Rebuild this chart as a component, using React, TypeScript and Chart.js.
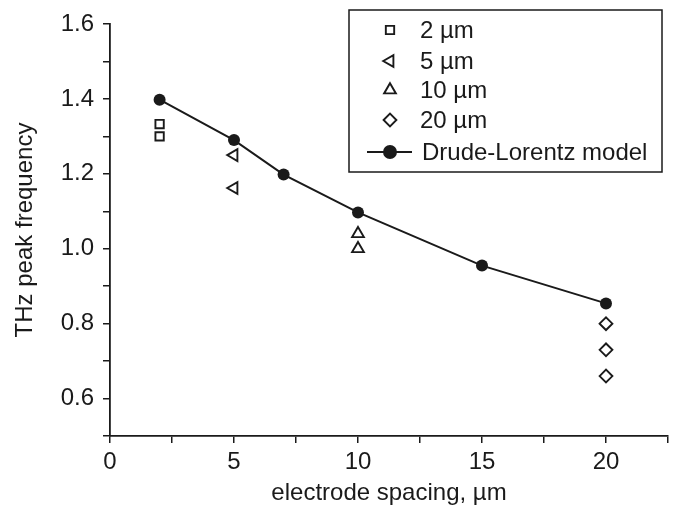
import React, { useEffect, useRef } from "react";
import { Chart, registerables } from "chart.js";
import { drawPoint } from "chart.js/helpers";

Chart.register(...registerables);

// Measured peak frequencies (THz) at each electrode spacing (µm)
const sq2X = [2, 2];
const sq2Y = [1.333, 1.3];
const tri5X = [5, 5];
const tri5Y = [1.25, 1.162];
const tri10X = [10, 10];
const tri10Y = [1.04, 1.0];
const dia20X = [20, 20, 20];
const dia20Y = [0.8, 0.73, 0.66];
// Drude-Lorentz model
const modelX = [2, 5, 7, 10, 15, 20];
const modelY = [1.398, 1.29, 1.198, 1.097, 0.955, 0.854];

const seriesLabels = ["2 µm", "5 µm", "10 µm", "20 µm", "Drude-Lorentz model"];
const xTitle = "electrode spacing, µm";
const yTitle = "THz peak frequency";

const FONT = "'Liberation Sans', Arial, Helvetica, sans-serif";
const INK = "#1a1a1a";
const FS = 24;

const zip = (xs: number[], ys: number[]) => xs.map((x, i) => ({ x, y: ys[i] }));

const legendPlugin = {
  id: "boxLegend",
  afterDraw(chart: any) {
    const ctx = chart.ctx as CanvasRenderingContext2D;
    ctx.save();
    ctx.strokeStyle = INK;
    ctx.lineWidth = 1.5;
    ctx.strokeRect(349, 10, 313, 162);
    const rowY = [30, 61, 90, 120, 152];
    const markerX = 390;
    chart.data.datasets.forEach((ds: any, i: number) => {
      const y = rowY[i];
      ctx.strokeStyle = INK;
      ctx.fillStyle = ds.backgroundColor;
      if (ds.showLine) {
        ctx.lineWidth = 2;
        ctx.beginPath();
        ctx.moveTo(367, y);
        ctx.lineTo(412, y);
        ctx.stroke();
      }
      ctx.lineWidth = ds.borderWidth;
      drawPoint(ctx, {
        pointStyle: ds.pointStyle,
        radius: ds.pointRadius,
        rotation: ds.pointRotation || 0,
        borderWidth: ds.borderWidth,
      } as any, markerX, y);
      ctx.fillStyle = INK;
      ctx.font = `${FS}px ${FONT}`;
      ctx.textBaseline = "middle";
      ctx.textAlign = "left";
      ctx.fillText(ds.label, ds.showLine ? 422 : 420, y + 1);
    });
    ctx.restore();
  },
};

export default function App() {
  const ref = useRef<HTMLCanvasElement>(null);
  useEffect(() => {
    if (!ref.current) return;
    const hollow = (label: string, data: any, style: string, radius: number, rotation = 0) => ({
      label,
      data,
      pointStyle: style,
      pointRadius: radius,
      pointRotation: rotation,
      backgroundColor: "#ffffff",
      borderColor: INK,
      borderWidth: 1.9,
      showLine: false,
    });
    const chart = new Chart(ref.current, {
      type: "scatter",
      data: {
        datasets: [
          hollow(seriesLabels[0], zip(sq2X, sq2Y), "rect", 5.9),
          hollow(seriesLabels[1], zip(tri5X, tri5Y), "triangle", 6.8, -90),
          hollow(seriesLabels[2], zip(tri10X, tri10Y), "triangle", 6.8),
          hollow(seriesLabels[3], zip(dia20X, dia20Y), "rectRot", 6.4),
          {
            label: seriesLabels[4],
            data: zip(modelX, modelY),
            showLine: true,
            borderColor: INK,
            borderWidth: 2,
            backgroundColor: INK,
            pointStyle: "circle",
            pointRadius: 6,
            pointBorderWidth: 0,
            pointBackgroundColor: INK,
            tension: 0,
          } as any,
        ],
      },
      options: {
        animation: false,
        responsive: true,
        maintainAspectRatio: false,
        layout: { padding: { top: 24, right: 9, left: 0, bottom: 0 } },
        plugins: { legend: { display: false }, tooltip: { enabled: false } },
        scales: {
          x: {
            type: "linear",
            min: 0,
            max: 22.5,
            afterFit: (s: any) => {
              s.height = 72;
            },
            grid: { drawOnChartArea: false, drawTicks: true, tickLength: 7, color: INK, lineWidth: 1.5 },
            border: { display: true, color: INK, width: 1.8 },
            ticks: {
              stepSize: 2.5,
              autoSkip: false,
              maxRotation: 0,
              padding: 5,
              color: INK,
              font: { family: FONT, size: FS },
              callback: (v: any) => (Math.abs(v % 5) < 1e-6 ? String(v) : ""),
            },
            title: {
              display: true,
              text: xTitle,
              color: INK,
              font: { family: FONT, size: FS },
              padding: { top: 0, bottom: 0 },
            },
          },
          y: {
            type: "linear",
            min: 0.5,
            max: 1.6,
            afterFit: (s: any) => {
              s.width = 110;
            },
            grid: { drawOnChartArea: false, drawTicks: true, tickLength: 7, color: INK, lineWidth: 1.5 },
            border: { display: true, color: INK, width: 1.8 },
            ticks: {
              stepSize: 0.1,
              autoSkip: false,
              padding: 9,
              color: INK,
              font: { family: FONT, size: FS },
              callback: (v: any) => {
                const t = Math.round(Number(v) * 10);
                return t % 2 === 0 && t >= 6 ? (t / 10).toFixed(1) : "";
              },
            },
            title: {
              display: true,
              text: yTitle,
              color: INK,
              font: { family: FONT, size: FS },
              padding: { top: 11, bottom: 0 },
            },
          },
        },
      },
      plugins: [legendPlugin],
    });
    return () => chart.destroy();
  }, []);
  return (
    <div style={{ position: "fixed", left: 0, top: 0, width: 677, height: 508, background: "#fff" }}>
      <canvas ref={ref} />
    </div>
  );
}
